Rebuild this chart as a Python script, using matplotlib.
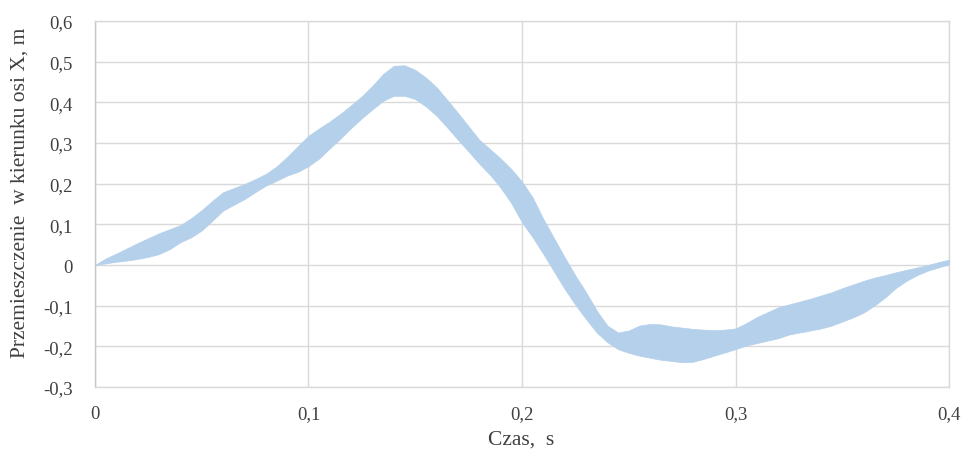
import numpy as np
import matplotlib.pyplot as plt
from matplotlib.ticker import FuncFormatter, MultipleLocator

# time, s
czas = [0.000, 0.005, 0.010, 0.015, 0.020, 0.025, 0.030, 0.035, 0.040, 0.045,
        0.050, 0.055, 0.060, 0.065, 0.070, 0.075, 0.080, 0.085, 0.090, 0.095,
        0.100, 0.105, 0.110, 0.115, 0.120, 0.125, 0.130, 0.135, 0.140, 0.145,
        0.150, 0.155, 0.160, 0.165, 0.170, 0.175, 0.180, 0.185, 0.190, 0.195,
        0.200, 0.205, 0.210, 0.215, 0.220, 0.225, 0.230, 0.235, 0.240, 0.245,
        0.250, 0.255, 0.260, 0.265, 0.270, 0.275, 0.280, 0.285, 0.290, 0.295,
        0.300, 0.305, 0.310, 0.315, 0.320, 0.325, 0.330, 0.335, 0.340, 0.345,
        0.350, 0.355, 0.360, 0.365, 0.370, 0.375, 0.380, 0.385, 0.390, 0.395,
        0.400]

# upper envelope of displacement, m
gorna = [0.000, 0.016, 0.028, 0.041, 0.054, 0.066, 0.078, 0.088, 0.098, 0.115,
         0.135, 0.158, 0.179, 0.189, 0.199, 0.211, 0.224, 0.242, 0.266, 0.292,
         0.318, 0.336, 0.353, 0.372, 0.393, 0.415, 0.441, 0.470, 0.490, 0.491,
         0.480, 0.461, 0.437, 0.406, 0.374, 0.341, 0.308, 0.285, 0.262, 0.236,
         0.205, 0.166, 0.113, 0.066, 0.019, -0.026, -0.067, -0.112, -0.149, -0.166,
         -0.161, -0.149, -0.145, -0.146, -0.151, -0.154, -0.157, -0.159, -0.160, -0.159,
         -0.156, -0.143, -0.128, -0.116, -0.104, -0.097, -0.090, -0.083, -0.075, -0.067,
         -0.057, -0.048, -0.039, -0.031, -0.025, -0.018, -0.012, -0.006, 0.000, 0.007,
         0.013]

# lower envelope of displacement, m
dolna = [0.000, 0.004, 0.008, 0.011, 0.015, 0.020, 0.027, 0.039, 0.056, 0.068,
         0.085, 0.109, 0.134, 0.148, 0.162, 0.179, 0.195, 0.207, 0.220, 0.229,
         0.243, 0.262, 0.287, 0.311, 0.337, 0.361, 0.383, 0.404, 0.416, 0.416,
         0.408, 0.390, 0.367, 0.338, 0.308, 0.279, 0.249, 0.222, 0.190, 0.152,
         0.105, 0.068, 0.027, -0.016, -0.059, -0.098, -0.133, -0.166, -0.190, -0.207,
         -0.216, -0.223, -0.228, -0.233, -0.236, -0.239, -0.238, -0.231, -0.223, -0.215,
         -0.207, -0.198, -0.192, -0.186, -0.180, -0.171, -0.166, -0.161, -0.156, -0.149,
         -0.139, -0.129, -0.117, -0.100, -0.080, -0.057, -0.039, -0.025, -0.014, -0.006,
         0.002]

plt.rcParams['font.family'] = ['Liberation Serif', 'DejaVu Serif']

fig = plt.figure(figsize=(9.64, 4.52), dpi=100)
ax = fig.add_axes([0.0985, 0.1416, 0.886, 0.8097])

ax.fill_between(czas, dolna, gorna, color='#b4d0eb', linewidth=0.5,
                edgecolor='#b4d0eb', zorder=3)

ax.set_xlim(0, 0.4)
ax.set_ylim(-0.3, 0.6)
ax.xaxis.set_major_locator(MultipleLocator(0.1))
ax.yaxis.set_major_locator(MultipleLocator(0.1))


def przecinek(v, pos):
    if abs(v) < 1e-9:
        return '0'
    return f'{v:.1f}'.replace('.', ',')


ax.xaxis.set_major_formatter(FuncFormatter(przecinek))
ax.yaxis.set_major_formatter(FuncFormatter(przecinek))

ax.grid(True, color='#d9d9d9', linewidth=1.0, zorder=0)
ax.set_axisbelow(True)
for s in ax.spines.values():
    s.set_color('#d9d9d9')
    s.set_linewidth(1.0)
ax.spines['left'].set_color('#c8c8c8')
ax.tick_params(length=0, labelsize=13.5, colors='#404040')
ax.tick_params(axis='y', pad=16)
ax.tick_params(axis='x', pad=13)

ax.set_xlabel('Czas,  s', fontsize=15.5, color='#404040')
ax.set_ylabel('Przemieszczenie  w kierunku osi X, m', fontsize=15.5,
              color='#404040')
ax.xaxis.set_label_coords(0.499, -0.142)
ax.xaxis.label.set_verticalalignment('center')
ax.yaxis.set_label_coords(-0.088, 0.533)
ax.yaxis.label.set_verticalalignment('center')

fig.savefig('out.png', dpi=100)
